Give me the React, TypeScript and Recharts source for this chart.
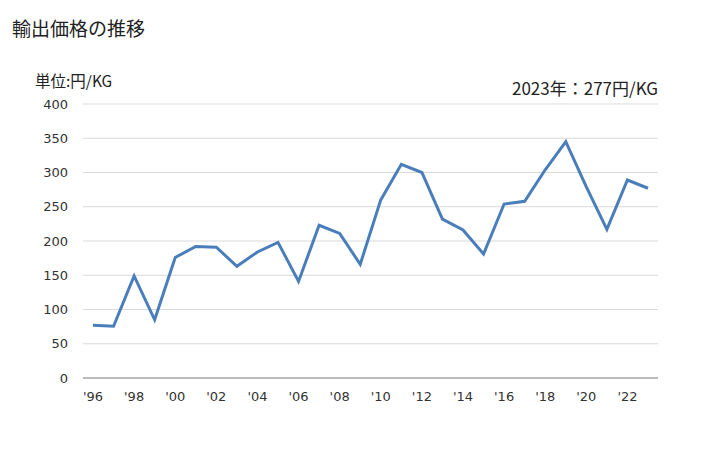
import { LineChart, Line, XAxis, YAxis, CartesianGrid } from 'recharts'

const years = [
  '96', '97', '98', '99', '00', '01', '02', '03', '04', '05', '06', '07', '08', '09',
  '10', '11', '12', '13', '14', '15', '16', '17', '18', '19', '20', '21', '22', '23',
]
const prices = [
  77, 75.5, 149, 85, 176, 192, 191, 163, 184, 198, 141, 223, 211, 166,
  260, 312, 300, 232, 216, 181, 254, 258, 304, 345, 279, 217, 289, 277,
]
const yTicks = [0, 50, 100, 150, 200, 250, 300, 350, 400]

const data = years.map((y, i) => ({ year: "'" + y, price: prices[i] }))

const font = '"DejaVu Sans", Verdana, sans-serif'
const jpFont = '"Noto Sans CJK JP", "Noto Sans", sans-serif'

export default function App() {
  return (
    <div style={{ position: 'absolute', left: 0, top: 0, width: 728, height: 450, background: '#fff' }}>
      <div style={{ position: 'absolute', left: 12, top: 14, fontSize: 19, fontFamily: jpFont, color: '#222' }}>
        輸出価格の推移
      </div>
      <div style={{ position: 'absolute', left: 35, top: 69, fontSize: 15.5, fontFamily: jpFont, color: '#222' }}>
        単位:円/KG
      </div>
      <div style={{ position: 'absolute', right: 70, top: 75, fontSize: 17, fontFamily: jpFont, color: '#222' }}>
        2023年：277円/KG
      </div>
      <LineChart
        width={728}
        height={450}
        data={data}
        margin={{ top: 104, right: 70, left: 33, bottom: 42 }}
      >
        <CartesianGrid vertical={false} stroke="#d9d9d9" />
        <XAxis
          dataKey="year"
          interval={1}
          padding={{ left: 10, right: 10 }}
          tickLine={false}
          axisLine={{ stroke: '#888' }}
          tickSize={0}
          tickMargin={14}
          height={30}
          tick={{ fontSize: 13, fill: '#333', fontFamily: font }}
        />
        <YAxis
          domain={[0, 400]}
          ticks={yTicks}
          width={50}
          axisLine={false}
          tickLine={false}
          tickSize={0}
          tickMargin={15}
          tick={{ fontSize: 13, fill: '#333', fontFamily: font }}
        />
        <Line
          type="linear"
          dataKey="price"
          stroke="#4a7ebb"
          strokeWidth={3}
          dot={false}
          isAnimationActive={false}
        />
      </LineChart>
    </div>
  )
}
